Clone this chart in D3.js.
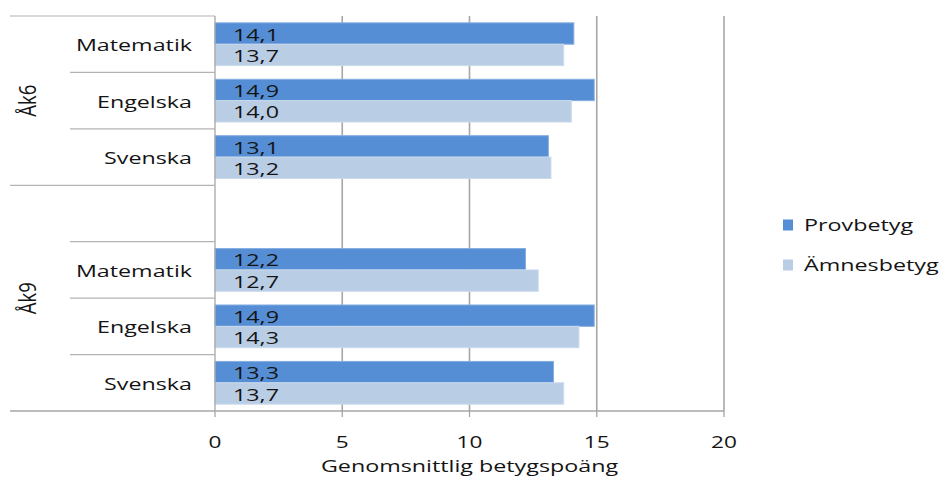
<!DOCTYPE html>
<html>
<head>
<meta charset="utf-8">
<script src="https://cdn.jsdelivr.net/npm/d3@7"></script>
<style>
  html, body { margin: 0; padding: 0; background: #ffffff; }
  svg { display: block; }
  text { font-family: "Open Sans", "Noto Sans", sans-serif; fill: #141414; }
</style>
</head>
<body>
<script>
// ---- data ----
const groups = ["Åk6", "Åk9"];
const subjectsAk6 = ["Matematik", "Engelska", "Svenska"];
const subjectsAk9 = ["", "Matematik", "Engelska", "Svenska"];
const series = ["Provbetyg", "Ämnesbetyg"];
const provbetygAk6 = [14.1, 14.9, 13.1];
const amnesbetygAk6 = [13.7, 14.0, 13.2];
const provbetygAk9 = [null, 12.2, 14.9, 13.3];
const amnesbetygAk9 = [null, 12.7, 14.3, 13.7];
const xTicks = [0, 5, 10, 15, 20];
const xTitle = "Genomsnittlig betygspoäng";

// ---- build rows ----
const groupSubjects = { "Åk6": subjectsAk6, "Åk9": subjectsAk9 };
const groupValues = {
  "Åk6": [provbetygAk6, amnesbetygAk6],
  "Åk9": [provbetygAk9, amnesbetygAk9]
};
const slots = [];
groups.forEach(g => {
  groupSubjects[g].forEach((s, i) => {
    slots.push({ key: g + "|" + s + "|" + i, group: g, subject: s, idx: i,
      values: series.map((name, si) => ({ name, value: groupValues[g][si][i] })) });
  });
});

// ---- layout ----
const W = 939, H = 477;
const SX = 1.37;      // horizontal glyph stretch of the original
const FS = 17;
const colors = { "Provbetyg": "#558ED5", "Ämnesbetyg": "#B9CDE5" };
const strokes = { "Provbetyg": "#86AEE2", "Ämnesbetyg": "#CBDAEC" };

const svg = d3.select("body").append("svg").attr("width", W).attr("height", H);
svg.append("rect").attr("width", W).attr("height", H).attr("fill", "#fff");

const x = d3.scaleLinear().domain([0, 20]).range([215, 724]);
const y = d3.scaleBand().domain(slots.map(d => d.key)).range([16, 411]).padding(0);
const yInner = d3.scaleBand().domain(series).range([0, y.bandwidth()]).paddingInner(0).paddingOuter(0.32);

function addText(sel, tx, ty, str, opts = {}) {
  const sx = opts.sx || SX;
  const rot = opts.rotate ? " rotate(" + opts.rotate + ")" : "";
  return sel.append("text")
    .attr("transform", `translate(${tx},${ty}) scale(${sx},1)${rot}`)
    .attr("text-anchor", opts.anchor || "start")
    .attr("dy", opts.dy || "0.36em")
    .attr("font-size", opts.size || FS)
    .text(str);
}

// gridlines
svg.append("g").selectAll("line").data(xTicks.filter(t => t > 0)).join("line")
  .attr("x1", d => x(d)).attr("x2", d => x(d))
  .attr("y1", 16).attr("y2", 411)
  .attr("stroke", "#A6A6A6").attr("stroke-width", 1.6);

// bars
const rowG = svg.append("g").selectAll("g").data(slots).join("g")
  .attr("transform", d => `translate(0,${y(d.key)})`);
rowG.selectAll("rect").data(d => d.values.filter(v => v.value != null)).join("rect")
  .attr("x", x(0))
  .attr("y", d => yInner(d.name))
  .attr("width", d => x(d.value) - x(0))
  .attr("height", yInner.bandwidth())
  .attr("fill", d => colors[d.name])
  .attr("stroke", d => strokes[d.name])
  .attr("stroke-width", 1);
rowG.each(function (d) {
  const g = d3.select(this);
  d.values.filter(v => v.value != null).forEach(v => {
    addText(g, x(0) + 18, yInner(v.name) + yInner.bandwidth() / 2 + 1,
      d3.format(".1f")(v.value).replace(".", ","));
  });
});

// x axis
const axisG = svg.append("g").attr("transform", "translate(0,411)");
axisG.append("line").attr("x1", 10).attr("x2", x(20)).attr("y1", 0).attr("y2", 0)
  .attr("stroke", "#A6A6A6").attr("stroke-width", 1.3);
axisG.selectAll("line.tick").data(xTicks).join("line").attr("class", "tick")
  .attr("x1", d => x(d)).attr("x2", d => x(d)).attr("y1", 0).attr("y2", 6)
  .attr("stroke", "#A6A6A6").attr("stroke-width", 1.3);
xTicks.forEach(t => addText(axisG, x(t), 31, String(t), { anchor: "middle", size: 16.5 }));

// left axis line
svg.append("line").attr("x1", x(0)).attr("x2", x(0)).attr("y1", 16).attr("y2", 411)
  .attr("stroke", "#A6A6A6").attr("stroke-width", 1.3);

// category separators
slots.forEach(d => {
  const isFirst = d.idx === 0;
  svg.append("line")
    .attr("x1", isFirst ? 10 : 70).attr("x2", x(0))
    .attr("y1", y(d.key)).attr("y2", y(d.key))
    .attr("stroke", "#B3B3B3").attr("stroke-width", 1.2);
});

// subject labels
slots.forEach(d => {
  if (d.subject) addText(svg, 192, y(d.key) + y.bandwidth() / 2 + 1, d.subject, { anchor: "end" });
});

// group labels (rotated)
groups.forEach(g => {
  const gs = slots.filter(s => s.group === g);
  const top = y(gs[0].key), bottom = y(gs[gs.length - 1].key) + y.bandwidth();
  addText(svg, 28, (top + bottom) / 2, g, { anchor: "middle", rotate: -90, size: 18.5, sx: 1.25, dy: "0.36em" });
});

// axis title
addText(svg, (x(0) + x(20)) / 2, 472, xTitle, { anchor: "middle", dy: "0" });

// legend
const legend = svg.append("g");
series.forEach((s, i) => {
  const ly = 225 + i * 40;
  legend.append("rect").attr("x", 783).attr("y", ly - 5.5).attr("width", 10).attr("height", 11)
    .attr("fill", colors[s]);
  addText(legend, 804, ly, s);
});
</script>
</body>
</html>
